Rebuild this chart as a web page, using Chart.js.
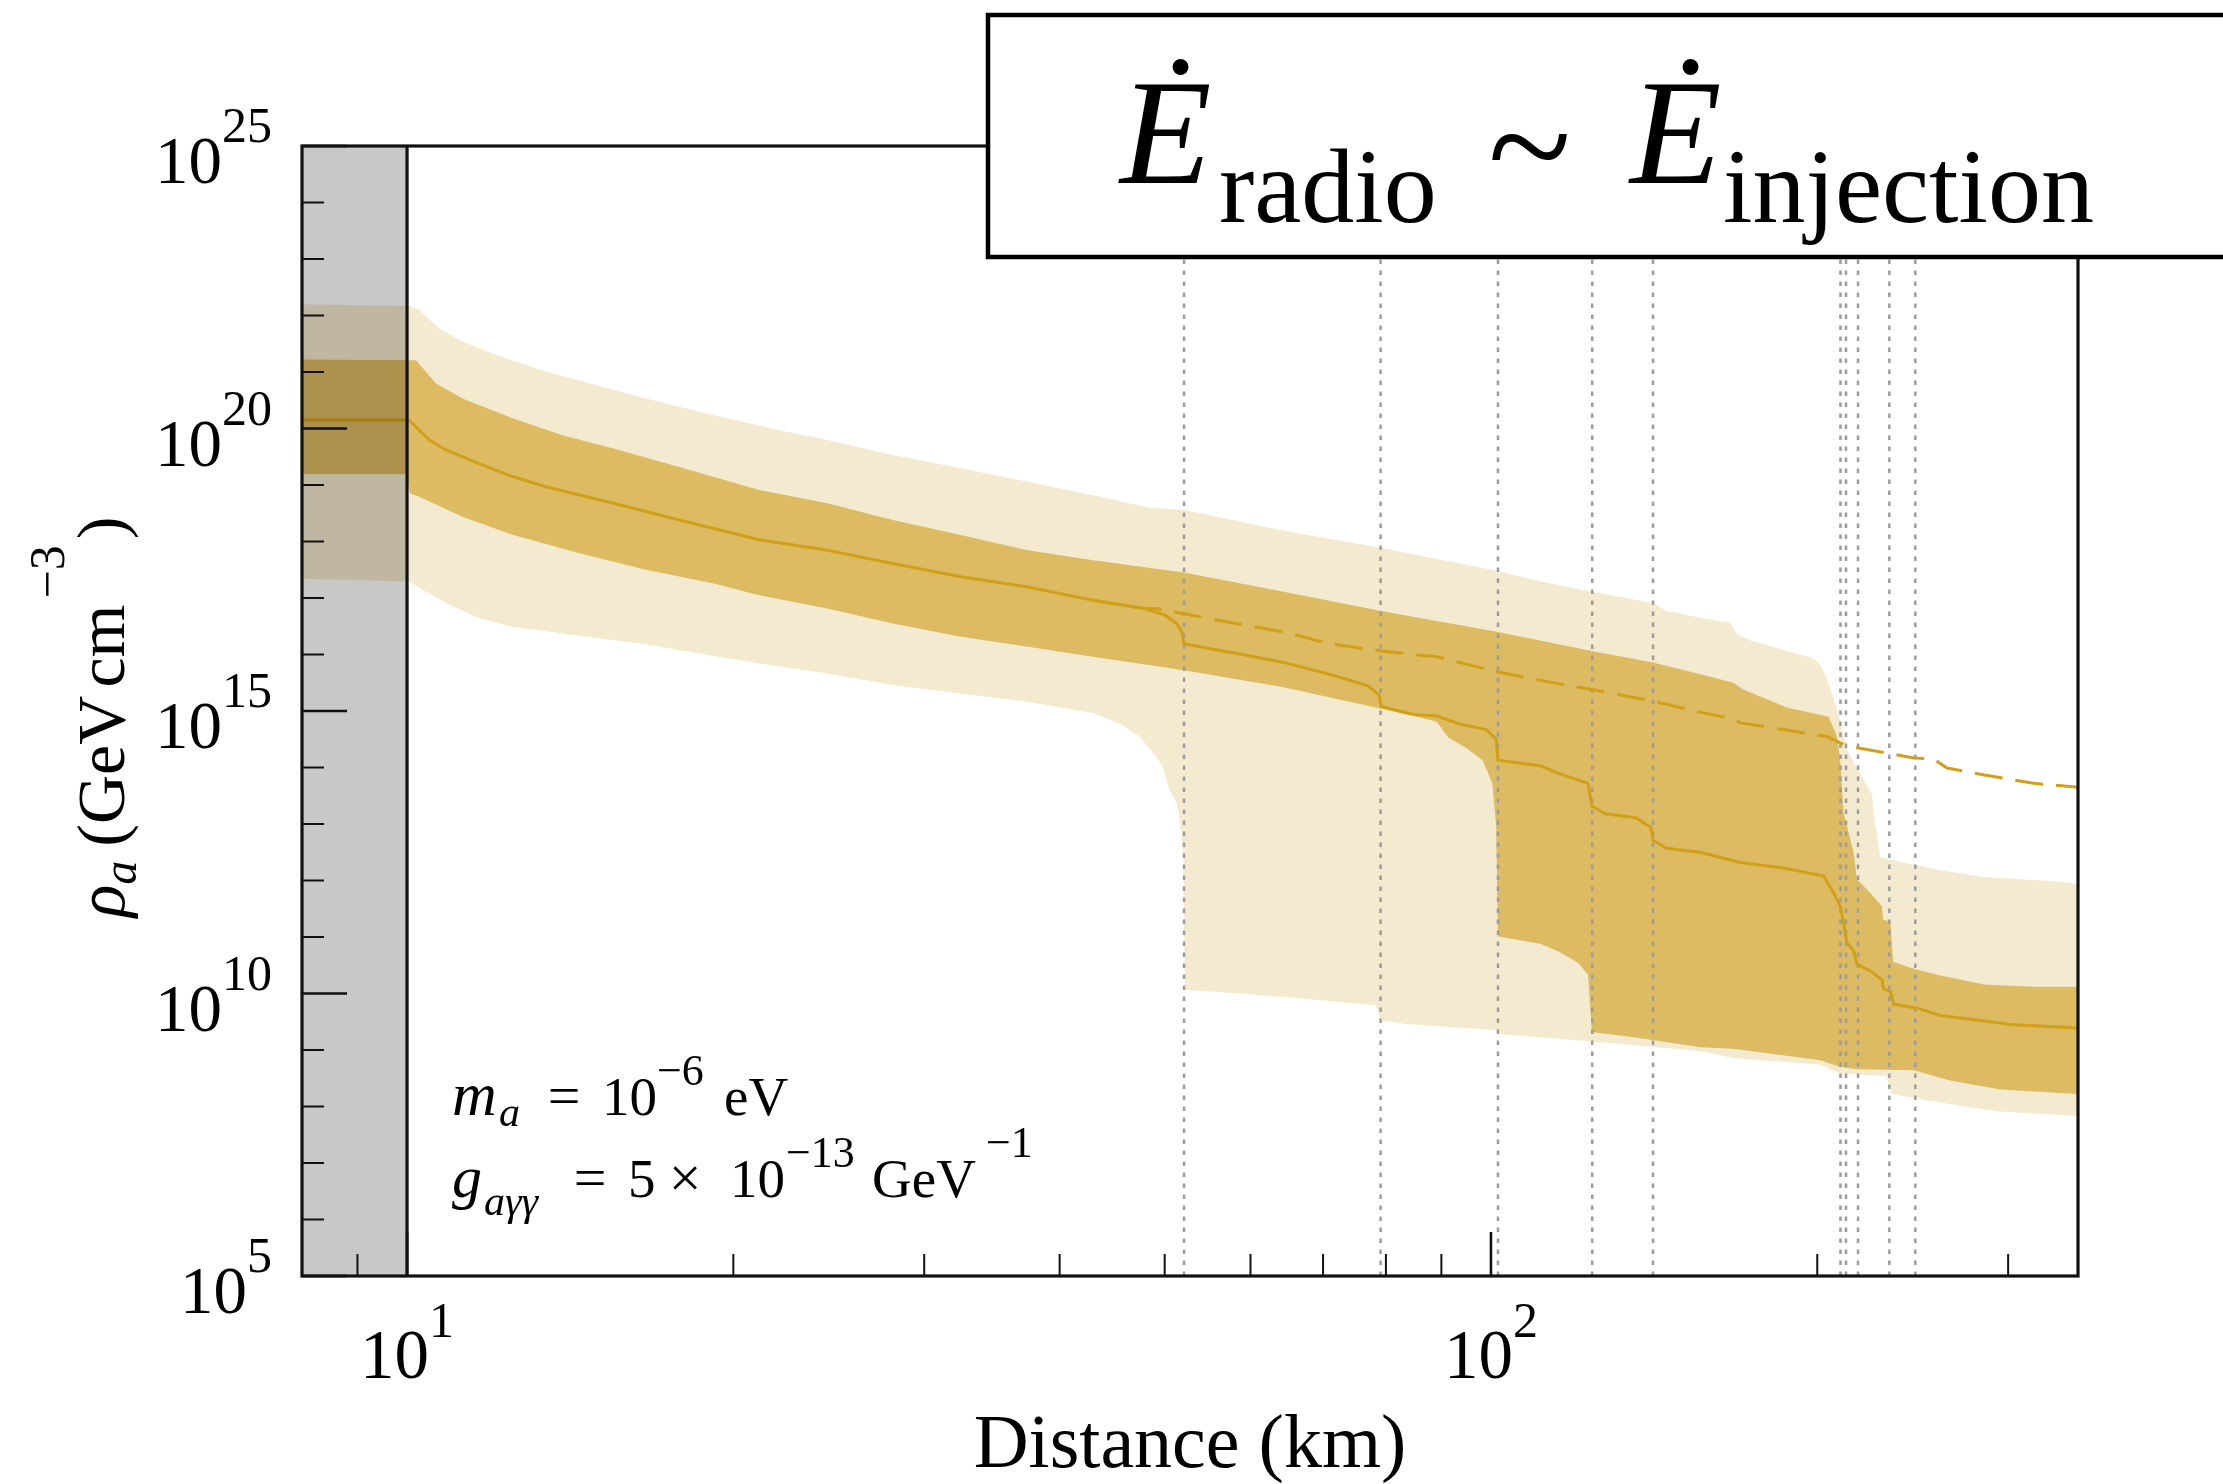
<!DOCTYPE html>
<html><head><meta charset="utf-8">
<script src="https://cdn.jsdelivr.net/npm/chart.js@4.4.1/dist/chart.umd.min.js"></script>
<style>html,body{margin:0;padding:0;background:#fff;overflow:hidden}canvas{display:block}</style>
</head><body>
<canvas id="c" width="2223" height="1484"></canvas>
<script>
// ---------- data (distance in km, value as log10 of rho_a in GeV cm^-3) ----------
const xRange = [8, 348];
const yRange = [1e5, 1e25];
const excludedKm = [8, 10];           // grey region (distances below 10 km)
const stationKm = [52.1, 79.1, 101.5, 124.0, 141.1, 210.1, 212.6, 218.1, 233.1, 246.3];

const median = [[8,20.15],[10.04,20.15],[10.48,19.80],[10.86,19.62],[11.65,19.38],[12.51,19.15],[13.43,18.97],[15.47,18.68],[17.83,18.38],[21.13,18.03],[24.36,17.85],[28.06,17.61],[32.34,17.38],[37.27,17.20],[42.94,16.96],[47.75,16.82],[50.0,16.70],[51.27,16.55],[51.88,16.40],[52.08,16.19],[55.59,16.09],[59.33,15.99],[64.38,15.86],[70.96,15.65],[76.95,15.45],[78.89,15.28],[79.2,15.08],[84.86,14.94],[89.13,14.91],[93.59,14.77],[99.04,14.67],[101.1,14.50],[101.5,14.13],[111.0,14.03],[115.6,13.89],[122.9,13.72],[123.9,13.32],[127.5,13.18],[136.0,13.11],[140.5,12.94],[141.1,12.71],[145.2,12.57],[156.0,12.50],[169.8,12.32],[186.2,12.22],[202.7,12.08],[207.1,11.78],[210.1,11.54],[211.5,11.23],[213.0,10.91],[216.1,10.75],[217.6,10.52],[223.9,10.40],[229.5,10.24],[230.3,10.08],[233.6,10.04],[235.3,9.81],[247.3,9.74],[259.8,9.61],[280.9,9.53],[301.5,9.45],[348,9.39]];

const noStation = [[42.94,16.96],[47.75,16.82],[49.2,16.81],[52.08,16.72],[56.97,16.58],[64.38,16.40],[70.96,16.19],[79.2,16.06],[89.13,15.96],[101.5,15.69],[115.6,15.48],[123.9,15.38],[140.5,15.18],[156.0,14.98],[167.4,14.86],[169.8,14.79],[204.2,14.55],[210.1,14.43],[217.6,14.35],[245.5,14.17],[256.1,14.15],[263.5,13.99],[287.0,13.86],[316.7,13.72],[348,13.65]];

const innerTop = [[8,21.22],[10.19,21.21],[10.63,20.80],[11.25,20.53],[12.51,20.18],[13.91,19.88],[15.47,19.65],[17.83,19.32],[21.13,18.91],[24.36,18.68],[28.06,18.38],[32.34,18.12],[37.27,17.85],[42.94,17.67],[52.08,17.45],[64.38,17.11],[79.2,16.77],[101.5,16.40],[123.9,16.06],[141.1,15.86],[156.0,15.65],[167.4,15.50],[170.9,15.38],[187.5,15.06],[204.9,14.90],[208.6,14.55],[210.1,14.07],[211.5,13.20],[216.1,12.49],[217.6,12.02],[223.9,11.78],[229.5,11.54],[230.0,11.31],[233.6,11.27],[235.0,10.56],[245.5,10.44],[259.8,10.32],[284.9,10.16],[316.7,10.12],[348,10.12]];

const innerBottom = [[8,19.19],[10.0,19.19],[10.06,18.85],[10.26,18.79],[11.25,18.44],[12.51,18.12],[14.42,17.79],[16.61,17.50],[19.14,17.26],[21.13,17.05],[24.36,16.82],[28.06,16.55],[32.34,16.32],[37.27,16.14],[42.94,15.96],[52.08,15.72],[64.38,15.42],[79.2,15.04],[84.86,14.91],[89.13,14.81],[91.33,14.53],[95.1,14.33],[98.24,14.13],[100.3,13.72],[101.1,12.98],[101.5,11.01],[111.0,10.88],[115.6,10.74],[120.4,10.54],[122.9,10.33],[123.9,9.32],[136.0,9.22],[156.0,9.05],[167.4,9.02],[201.3,8.82],[210.1,8.70],[217.6,8.66],[245.5,8.64],[256.1,8.54],[265.3,8.46],[295.1,8.30],[348,8.22]];

const outerTop = [[8,22.20],[10.04,22.17],[10.26,22.10],[10.70,21.77],[11.25,21.54],[12.08,21.30],[13.43,21.01],[14.94,20.77],[16.61,20.53],[19.14,20.24],[22.06,19.97],[24.36,19.80],[28.06,19.53],[32.34,19.30],[37.27,19.06],[42.94,18.82],[48.33,18.60],[52.0,18.56],[64.38,18.19],[79.2,17.89],[89.13,17.69],[101.5,17.48],[111.9,17.28],[123.9,17.11],[141.1,16.91],[145.2,16.77],[156.0,16.65],[166.3,16.56],[168.7,16.36],[173.5,16.25],[198.5,15.93],[201.3,15.81],[204.2,15.57],[209.3,14.94],[213.0,14.31],[217.6,13.99],[224.7,13.52],[225.4,13.20],[228.7,12.41],[238.6,12.33],[259.8,12.18],[284.9,12.06],[335.3,11.98],[348,11.94]];

const outerBottom = [[8,17.34],[10.04,17.29],[10.48,17.08],[10.86,16.91],[11.65,16.64],[12.51,16.49],[14.42,16.33],[16.61,16.18],[19.14,15.98],[21.13,15.84],[24.36,15.67],[28.06,15.46],[32.34,15.31],[37.27,15.17],[42.94,14.96],[45.43,14.78],[47.41,14.55],[49.12,14.19],[49.81,14.01],[50.52,13.60],[51.27,13.37],[51.62,13.07],[52.0,12.48],[52.18,10.06],[55.59,10.03],[65.42,9.93],[78.22,9.79],[79.2,9.52],[83.5,9.46],[101.5,9.35],[102.3,9.28],[123.9,9.15],[156.0,8.98],[167.4,8.86],[201.3,8.74],[210.1,8.58],[231.7,8.54],[234.2,8.22],[245.5,8.15],[275.0,7.99],[295.1,7.91],[348,7.83]];

// ---------- ticks ----------
const xMajorTicks = [10, 100];
const xTickLabels = ['10^1', '10^2'];
const xMinorTicks = [9, 20, 30, 40, 50, 60, 70, 80, 90, 200, 300];
const yMajorTicks = [1e5, 1e10, 1e15, 1e20, 1e25];
const yTickLabels = ['10^5', '10^10', '10^15', '10^20', '10^25'];
const yMinorTicks = [1e6,1e7,1e8,1e9,1e11,1e12,1e13,1e14,1e16,1e17,1e18,1e19,1e21,1e22,1e23,1e24];

// ---------- styles ----------
const C_LINE = '#d29f18', C_DARK = '#dcbb62', C_LIGHT = '#f4eacf';
const SERIF = '"Liberation Serif", "Times New Roman", serif';

const pts = arr => arr.map(([km, e]) => ({x: km, y: Math.pow(10, e)}));
const hidden = {borderColor: 'rgba(0,0,0,0)', borderWidth: 0, pointRadius: 0};

const datasets = [];
// boundary line at 10 km
datasets.push({data: [{x: excludedKm[1], y: yRange[0]}, {x: excludedKm[1], y: yRange[1]}], borderColor: '#111', borderWidth: 3.2, pointRadius: 0, fill: false});
// grey excluded region (drawn above the bands)
datasets.push({data: [{x: excludedKm[0], y: yRange[1]}, {x: excludedKm[1], y: yRange[1]}], ...hidden, fill: 'start', backgroundColor: 'rgba(0,0,0,0.215)'});
// median and no-station curves
datasets.push({data: pts(median), borderColor: C_LINE, borderWidth: 3, pointRadius: 0, fill: false});
datasets.push({data: pts(noStation), borderColor: C_LINE, borderWidth: 3, borderDash: [28, 13], pointRadius: 0, fill: false});
// station distances
stationKm.forEach(km => datasets.push({data: [{x: km, y: yRange[0]}, {x: km, y: yRange[1]}], borderColor: '#9c9c9c', borderWidth: 2.5, borderDash: [4.5, 6.5], pointRadius: 0, fill: false}));
// 1 sigma band
datasets.push({data: pts(innerTop), ...hidden, fill: '+1', backgroundColor: C_DARK});
datasets.push({data: pts(innerBottom), ...hidden, fill: false});
// 2 sigma band
datasets.push({data: pts(outerTop), ...hidden, fill: '+1', backgroundColor: C_LIGHT});
datasets.push({data: pts(outerBottom), ...hidden, fill: false});

function fnt(s) { return `${s.it ? 'italic ' : ''}${s.size}px ${SERIF}`; }
function rich(ctx, segs, x0, y0, align) {
  const widths = []; let w = 0;
  segs.forEach(s => { ctx.font = fnt(s); const ww = ctx.measureText(s.t).width; widths.push(ww); w += (s.gap || 0) + ww; });
  let x = align === 'center' ? x0 - w / 2 : align === 'right' ? x0 - w : x0;
  ctx.textAlign = 'left';
  segs.forEach((s, i) => { x += s.gap || 0; ctx.font = fnt(s); ctx.fillText(s.t, x, y0 + (s.dy || 0)); x += widths[i]; });
  return w;
}
function txt(ctx, t, x, y, size, it, align) {
  ctx.font = fnt({size, it}); ctx.textAlign = align || 'left'; ctx.fillText(t, x, y);
}

const decor = {
  id: 'decor',
  afterDatasetsDraw(chart) {
    const {ctx, chartArea: a, scales: {x: xs, y: ys}} = chart;
    ctx.save();
    ctx.strokeStyle = '#111'; ctx.lineCap = 'butt';
    const seg = (x1, y1, x2, y2) => { ctx.beginPath(); ctx.moveTo(x1, y1); ctx.lineTo(x2, y2); ctx.stroke(); };
    ctx.lineWidth = 2;
    yMinorTicks.forEach(v => { const p = ys.getPixelForValue(v); seg(a.left, p, a.left + 22, p); });
    xMinorTicks.forEach(v => { const p = xs.getPixelForValue(v); seg(p, a.bottom, p, a.bottom - 22); });
    ctx.lineWidth = 2.6;
    yMajorTicks.forEach(v => { const p = ys.getPixelForValue(v); seg(a.left, p, a.left + 45, p); });
    xMajorTicks.forEach(v => { const p = xs.getPixelForValue(v); seg(p, a.bottom, p, a.bottom - 44); });
    ctx.lineWidth = 3.2;
    ctx.strokeRect(a.left, a.top, a.right - a.left, a.bottom - a.top);
    ctx.restore();
  },
  afterDraw(chart) {
    const {ctx, chartArea: a, scales: {x: xs, y: ys}} = chart;
    ctx.save();
    ctx.fillStyle = '#000';
    ctx.textBaseline = 'alphabetic';
    // tick labels
    yMajorTicks.forEach((v, i) => {
      const [b, e] = yTickLabels[i].split('^');
      const p = ys.getPixelForValue(v);
      rich(ctx, [{t: b, size: 67}, {t: e, size: 50, dy: -41}], a.left - 30, p + 37, 'right');
    });
    xMajorTicks.forEach((v, i) => {
      const [b, e] = xTickLabels[i].split('^');
      const p = xs.getPixelForValue(v);
      rich(ctx, [{t: b, size: 69}, {t: e, size: 50, dy: -41}], p, 1378, 'center');
    });
    // axis titles
    rich(ctx, [{t: 'Distance (km)', size: 76}], (a.left + a.right) / 2, 1467, 'center');
    ctx.save();
    ctx.translate(124, (a.top + a.bottom) / 2 + 6);
    ctx.rotate(-Math.PI / 2);
    rich(ctx, [
      {t: 'ρ', size: 68, it: true},
      {t: 'a', size: 48, it: true, dy: 12},
      {t: '(GeV', size: 68, gap: 14},
      {t: 'cm', size: 68, gap: 8},
      {t: '−3', size: 50, dy: -60, gap: 6},
      {t: ')', size: 68, gap: 6}
    ], 0, 0, 'center');
    ctx.restore();
    // parameter text
    txt(ctx, 'm', 452, 1115, 62, true);
    txt(ctx, 'a', 499, 1126, 42, true);
    txt(ctx, '=', 564, 1115, 58, false, 'center');
    txt(ctx, '10', 602, 1115, 55);
    txt(ctx, '−6', 657, 1085, 44);
    txt(ctx, 'eV', 724, 1115, 55);
    txt(ctx, 'g', 452, 1197, 60, true);
    txt(ctx, 'aγγ', 484, 1215, 42, true);
    txt(ctx, '=', 590, 1197, 58, false, 'center');
    txt(ctx, '5', 628, 1197, 55);
    txt(ctx, '×', 685, 1197, 58, false, 'center');
    txt(ctx, '10', 730, 1197, 55);
    txt(ctx, '−13', 786, 1167, 44);
    txt(ctx, 'GeV', 872, 1197, 55);
    txt(ctx, '−1', 986, 1157, 44);
    // title box
    ctx.fillStyle = '#fff';
    ctx.fillRect(988, 15, 1300, 242);
    ctx.strokeStyle = '#000'; ctx.lineWidth = 4.5;
    ctx.strokeRect(988, 15, 1300, 242);
    ctx.fillStyle = '#000';
    txt(ctx, 'Ė', 1120, 183, 150, true);
    txt(ctx, 'radio', 1219, 222, 106);
    txt(ctx, '~', 1488, 198, 154);
    txt(ctx, 'Ė', 1630, 183, 150, true);
    txt(ctx, 'injection', 1723, 222, 106);
    ctx.restore();
  }
};

new Chart(document.getElementById('c'), {
  type: 'line',
  data: {datasets},
  options: {
    responsive: false, animation: false, devicePixelRatio: 1, events: [],
    layout: {padding: {left: 302, top: 146, right: 145, bottom: 208}},
    scales: {
      x: {type: 'logarithmic', min: xRange[0], max: xRange[1], display: false},
      y: {type: 'logarithmic', min: yRange[0], max: yRange[1], display: false}
    },
    plugins: {legend: {display: false}, tooltip: {enabled: false}},
    elements: {line: {tension: 0}, point: {radius: 0}}
  },
  plugins: [decor]
});
</script>
</body></html>
